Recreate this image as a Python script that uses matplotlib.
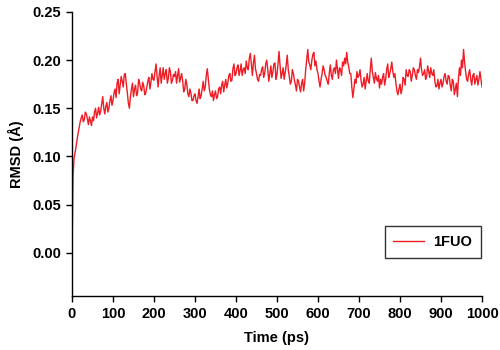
import numpy as np
import matplotlib
matplotlib.use("Agg")
import matplotlib.pyplot as plt

plt.rcParams['font.family'] = ['Liberation Sans', 'DejaVu Sans']
plt.rcParams['font.weight'] = 'bold'

# samples on the 5 ps grid
time_main = np.arange(0, 1001, 5)
rmsd_main = [
    0.000, 0.098, 0.110, 0.124, 0.136, 0.143, 0.138, 0.144, 0.133, 0.137,
    0.141, 0.146, 0.140, 0.151, 0.147, 0.162, 0.144, 0.156, 0.150, 0.163,
    0.158, 0.170, 0.176, 0.165, 0.183, 0.172, 0.186, 0.166, 0.150, 0.170,
    0.162, 0.174, 0.166, 0.176, 0.168, 0.173, 0.166, 0.178, 0.170, 0.186,
    0.179, 0.196, 0.172, 0.192, 0.184, 0.180, 0.190, 0.181, 0.188, 0.179,
    0.183, 0.176, 0.191, 0.182, 0.178, 0.170, 0.175, 0.162, 0.166, 0.158,
    0.165, 0.155, 0.170, 0.163, 0.178, 0.172, 0.191, 0.170, 0.162, 0.158,
    0.168, 0.162, 0.172, 0.174, 0.167, 0.180, 0.176, 0.186, 0.179, 0.196,
    0.186, 0.195, 0.189, 0.184, 0.192, 0.199, 0.190, 0.207, 0.184, 0.205,
    0.186, 0.178, 0.184, 0.193, 0.186, 0.200, 0.178, 0.194, 0.188, 0.197,
    0.185, 0.209, 0.181, 0.192, 0.187, 0.205, 0.183, 0.178, 0.186, 0.174,
    0.180, 0.172, 0.176, 0.168, 0.190, 0.211, 0.195, 0.200, 0.208, 0.199,
    0.186, 0.172, 0.186, 0.190, 0.182, 0.175, 0.195, 0.180, 0.192, 0.200,
    0.181, 0.190, 0.198, 0.202, 0.208, 0.193, 0.186, 0.161, 0.180, 0.188,
    0.184, 0.179, 0.175, 0.170, 0.186, 0.176, 0.202, 0.182, 0.187, 0.178,
    0.171, 0.175, 0.186, 0.180, 0.196, 0.186, 0.198, 0.182, 0.176, 0.164,
    0.175, 0.170, 0.180, 0.190, 0.183, 0.188, 0.184, 0.190, 0.180, 0.187,
    0.202, 0.184, 0.190, 0.183, 0.188, 0.192, 0.184, 0.178, 0.173, 0.170,
    0.180, 0.176, 0.186, 0.175, 0.183, 0.168, 0.178, 0.170, 0.162, 0.192,
    0.200, 0.211, 0.188, 0.178, 0.190, 0.174, 0.186, 0.180, 0.174, 0.188,
    0.172,
]
# samples read in between (2.5 ps, 7.5 ps, ...)
time_mid = np.arange(2.5, 1000, 5)
rmsd_mid = [
    0.080, 0.104, 0.118, 0.130, 0.140, 0.136, 0.146, 0.139, 0.141, 0.132,
    0.137, 0.150, 0.145, 0.143, 0.155, 0.150, 0.152, 0.146, 0.158, 0.153,
    0.166, 0.161, 0.180, 0.174, 0.178, 0.185, 0.175, 0.155, 0.162, 0.176,
    0.170, 0.163, 0.180, 0.170, 0.177, 0.164, 0.172, 0.182, 0.177, 0.180,
    0.188, 0.183, 0.184, 0.176, 0.192, 0.186, 0.176, 0.192, 0.176, 0.185,
    0.188, 0.184, 0.177, 0.186, 0.167, 0.180, 0.165, 0.170, 0.158, 0.163,
    0.158, 0.162, 0.160, 0.170, 0.168, 0.184, 0.180, 0.164, 0.168, 0.164,
    0.160, 0.170, 0.165, 0.178, 0.174, 0.171, 0.184, 0.178, 0.191, 0.184,
    0.192, 0.184, 0.196, 0.190, 0.186, 0.192, 0.202, 0.196, 0.197, 0.191,
    0.180, 0.185, 0.190, 0.182, 0.196, 0.190, 0.186, 0.182, 0.196, 0.180,
    0.196, 0.194, 0.186, 0.180, 0.195, 0.190, 0.175, 0.190, 0.179, 0.168,
    0.178, 0.167, 0.180, 0.176, 0.200, 0.198, 0.190, 0.206, 0.194, 0.190,
    0.178, 0.180, 0.194, 0.184, 0.178, 0.186, 0.184, 0.190, 0.186, 0.190,
    0.192, 0.184, 0.194, 0.196, 0.198, 0.186, 0.172, 0.170, 0.176, 0.182,
    0.190, 0.172, 0.182, 0.178, 0.178, 0.190, 0.188, 0.176, 0.181, 0.184,
    0.180, 0.182, 0.174, 0.190, 0.182, 0.191, 0.188, 0.186, 0.168, 0.170,
    0.165, 0.182, 0.174, 0.184, 0.190, 0.178, 0.192, 0.184, 0.190, 0.193,
    0.190, 0.186, 0.180, 0.194, 0.182, 0.186, 0.190, 0.172, 0.180, 0.176,
    0.172, 0.183, 0.178, 0.184, 0.174, 0.180, 0.164, 0.176, 0.180, 0.184,
    0.192, 0.198, 0.180, 0.186, 0.180, 0.184, 0.175, 0.184, 0.180, 0.180,
]
series_name = "1FUO"
x_ticks = list(range(0, 1001, 100))
y_ticks = [0.00, 0.05, 0.10, 0.15, 0.20, 0.25]

t_all = np.concatenate([time_main, time_mid])
v_all = np.concatenate([np.asarray(rmsd_main), np.asarray(rmsd_mid)])
order = np.argsort(t_all)
t_all, v_all = t_all[order], v_all[order]

fig = plt.figure(figsize=(5, 3.5), dpi=100)
ax = fig.add_axes([0.144, 0.154, 0.820, 0.812])
ax.plot(t_all, v_all, color='#ee1c25', linewidth=1.0, label=series_name)

ax.set_xlim(0, 1000)
ax.set_ylim(-0.045, 0.25)
ax.set_xticks(x_ticks)
ax.set_yticks(y_ticks)
ax.set_yticklabels([f"{v:.2f}" for v in y_ticks])
ax.spines['top'].set_visible(False)
ax.spines['right'].set_visible(False)
for s in ('left', 'bottom'):
    ax.spines[s].set_linewidth(1.0)
ax.tick_params(direction='out', length=4, width=1, labelsize=10.5, pad=4)
for lab in ax.get_xticklabels() + ax.get_yticklabels():
    lab.set_fontweight('bold')

ax.set_xlabel("Time (ps)", fontsize=10.5, fontweight='bold', labelpad=7)
ax.set_ylabel("RMSD (Å)", fontsize=10.5, fontweight='bold', labelpad=6)

leg = ax.legend(loc='upper right', bbox_to_anchor=(0.9976, 0.2465), borderaxespad=0,
                frameon=True, fancybox=False, prop={'weight': 'bold', 'size': 10.5},
                handlelength=2.1, borderpad=0.6, handletextpad=0.65)
leg.get_frame().set_edgecolor('black')
leg.get_frame().set_linewidth(1.0)

fig.savefig("out.png", dpi=100)
